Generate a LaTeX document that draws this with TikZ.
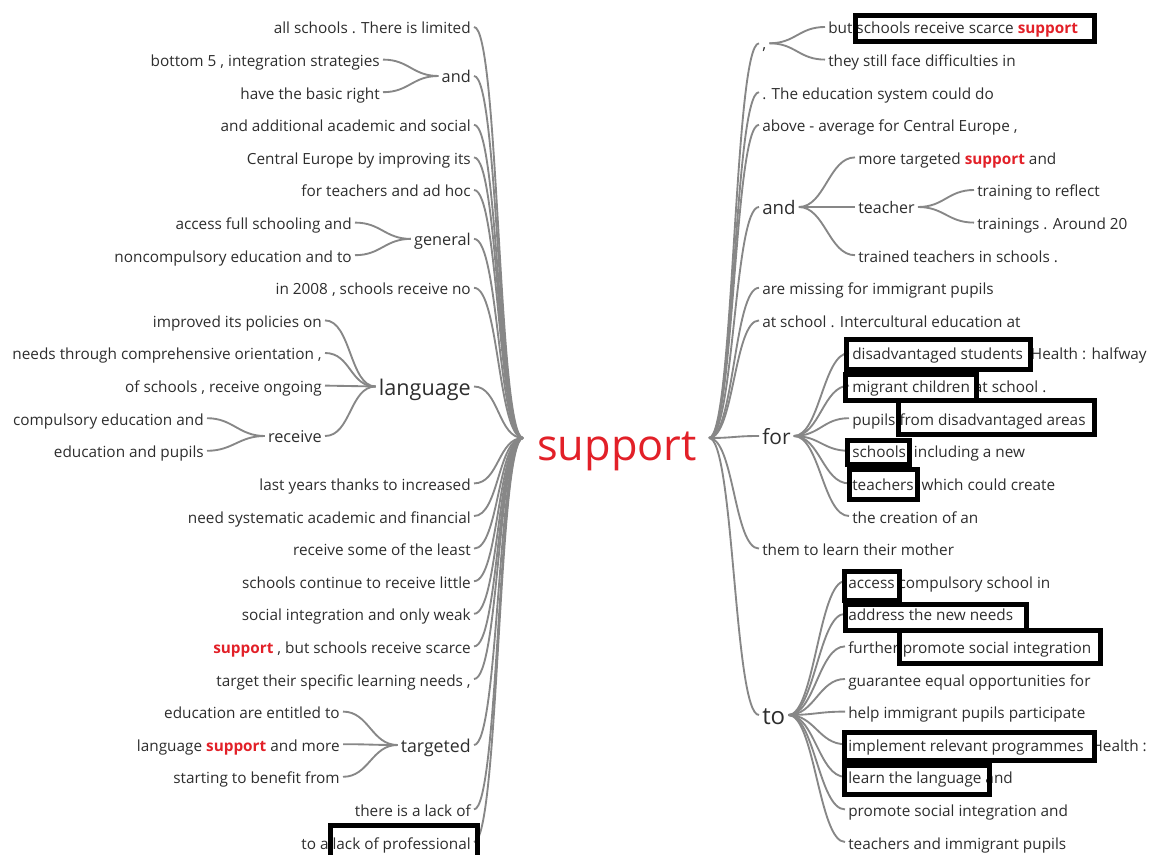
\documentclass[tikz,border=0pt]{standalone}
\usepackage{fontspec}
\setmainfont{Open Sans}
\usepackage{xcolor}

\definecolor{wordred}{RGB}{226,32,40}
\definecolor{wordgray}{RGB}{45,45,45}
\definecolor{linkgray}{RGB}{135,135,135}

\newcommand{\hit}{\textcolor{wordred}{\textbf{support}}}

\tikzset{
  word/.style={text=wordgray, inner xsep=2.25pt, inner ysep=0pt, text height=10.5pt, text depth=0pt, font=\fontsize{11.5}{13}\selectfont},
  leafL/.style={word, anchor=east},
  leafR/.style={word, anchor=west},
  hubword/.style={word, font=\fontsize{#1}{#1}\selectfont, text height=.8*#1 pt},
  link/.style={draw=linkgray, line width=1.4pt},
  hilite/.style={draw=black, line width=3.75pt},
}

\begin{document}
\begin{tikzpicture}[x=0.75pt, y=-0.75pt]
  \useasboundingbox (0,0) rectangle (1153,855);

  % centre word
  \node[font=\fontsize{32.5}{33}\selectfont, text=wordred, inner sep=0pt, anchor=base] (sup) at (617,460) {support};
  \coordinate (hubL) at (523,438);
  \coordinate (hubR) at (709,438);

  % left side
  \node[leafL] (l0) at (474,27) {all schools . There is limited};
  \node[hubword=12.2, anchor=east] (land) at (474,76) {and};
  \node[leafL] (land1) at (383,59.6) {bottom 5 , integration strategies};
  \node[leafL] (land2) at (383,92.2) {have the basic right};
  \node[leafL] (l3) at (474,124.8) {and additional academic and social};
  \node[leafL] (l4) at (474,157.4) {Central Europe by improving its};
  \node[leafL] (l5) at (474,190) {for teachers and ad hoc};
  \node[hubword=12.2, anchor=east] (lgen) at (474,238.9) {general};
  \node[leafL] (lgen1) at (355,222.6) {access full schooling and};
  \node[leafL] (lgen2) at (355,255.2) {noncompulsory education and to};
  \node[leafL] (l8) at (474,287.8) {in 2008 , schools receive no};
  \node[hubword=16.2, anchor=east] (llang) at (474,386.5) {language};
  \node[leafL] (llang1) at (325,320.4) {improved its policies on};
  \node[leafL] (llang2) at (325,353) {needs through comprehensive orientation ,};
  \node[leafL] (llang3) at (325,385.6) {of schools , receive ongoing};
  \node[hubword=12.2, anchor=east] (lrec) at (325,436) {receive};
  \node[leafL] (lrec1) at (207,418.2) {compulsory education and};
  \node[leafL] (lrec2) at (207,450.8) {education and pupils};
  \node[leafL] (l14) at (474,483.4) {last years thanks to increased};
  \node[leafL] (l15) at (474,516) {need systematic academic and financial};
  \node[leafL] (l16) at (474,548.6) {receive some of the least};
  \node[leafL] (l17) at (474,581.2) {schools continue to receive little};
  \node[leafL] (l18) at (474,613.8) {social integration and only weak};
  \node[leafL] (l19) at (474,646.4) {\hit{} , but schools receive scarce};
  \node[leafL] (l20) at (474,679) {target their specific learning needs ,};
  \node[hubword=13.3, anchor=east] (ltarg) at (474,745) {targeted};
  \node[leafL] (ltarg1) at (343,711.6) {education are entitled to};
  \node[leafL] (ltarg2) at (343,744.2) {language \hit{} and more};
  \node[leafL] (ltarg3) at (343,776.8) {starting to benefit from};
  \node[leafL] (l24) at (474,809.4) {there is a lack of};
  \node[leafL] (l25) at (474,842) {to a lack of professional};

  % right side
  \node[hubword=12, anchor=west] (rcom) at (759,43.3) {,};
  \node[leafR] (rcom1) at (825,27) {but schools receive scarce \hit};
  \node[leafR] (rcom2) at (825,59.6) {they still face difficulties in};
  \node[leafR] (r2) at (759,92.2) {. The education system could do};
  \node[leafR] (r3) at (759,124.8) {above - average for Central Europe ,};
  \node[hubword=14, anchor=west] (rand) at (759,207) {and};
  \node[leafR] (rand1) at (855,157.4) {more targeted \hit{} and};
  \node[hubword=12, anchor=west] (rteach) at (855,207) {teacher};
  \node[leafR] (rteach1) at (974,190) {training to reflect};
  \node[leafR] (rteach2) at (974,222.6) {trainings . Around 20};
  \node[leafR] (rand3) at (855,255.2) {trained teachers in schools .};
  \node[leafR] (r8) at (759,287.8) {are missing for immigrant pupils};
  \node[leafR] (r9) at (759,320.4) {at school . Intercultural education at};
  \node[hubword=15.7, anchor=west] (rfor) at (759,436) {for};
  \node[leafR] (rfor1) at (849,353) {disadvantaged students\ \ Health : halfway};
  \node[leafR] (rfor2) at (849,385.6) {migrant children at school .};
  \node[leafR] (rfor3) at (849,418.2) {pupils from disadvantaged areas};
  \node[leafR] (rfor4) at (849,450.8) {schools\ \ including a new};
  \node[leafR] (rfor5) at (849,483.4) {teachers\ \ which could create};
  \node[leafR] (rfor6) at (849,516) {the creation of an};
  \node[leafR] (r16) at (759,548.6) {them to learn their mother};
  \node[hubword=18, anchor=west] (rto) at (759,715) {to};
  \node[leafR] (rto1) at (845,581.2) {access compulsory school in};
  \node[leafR] (rto2) at (845,613.8) {address the new needs};
  \node[leafR] (rto3) at (845,646.4) {further promote social integration};
  \node[leafR] (rto4) at (845,679) {guarantee equal opportunities for};
  \node[leafR] (rto5) at (845,711.6) {help immigrant pupils participate};
  \node[leafR] (rto6) at (845,744.2) {implement relevant programmes\ \ Health :};
  \node[leafR] (rto7) at (845,776.8) {learn the language and};
  \node[leafR] (rto8) at (845,809.4) {promote social integration and};
  \node[leafR] (rto9) at (845,842) {teachers and immigrant pupils};

  % connectors
  \foreach \n in {l0,land,l3,l4,l5,lgen,l8,llang,l14,l15,l16,l17,l18,l19,l20,ltarg,l24,l25}
    \draw[link] (\n.east) .. controls +(25,0) and +(-25,0) .. (hubL);
  \foreach \p/\c in {land/land1,land/land2,lgen/lgen1,lgen/lgen2,llang/llang1,llang/llang2,llang/llang3,llang/lrec,lrec/lrec1,lrec/lrec2,ltarg/ltarg1,ltarg/ltarg2,ltarg/ltarg3}
    \draw[link] (\c.east) .. controls +(26,0) and +(-26,0) .. (\p.west);
  \foreach \n in {rcom,r2,r3,rand,r8,r9,rfor,r16,rto}
    \draw[link] (hubR) .. controls +(25,0) and +(-25,0) .. (\n.west);
  \foreach \p/\c in {rcom/rcom1,rcom/rcom2,rand/rand1,rand/rteach,rand/rand3,rteach/rteach1,rteach/rteach2,rfor/rfor1,rfor/rfor2,rfor/rfor3,rfor/rfor4,rfor/rfor5,rfor/rfor6,rto/rto1,rto/rto2,rto/rto3,rto/rto4,rto/rto5,rto/rto6,rto/rto7,rto/rto8,rto/rto9}
    \draw[link] (\p.east) .. controls +(26,0) and +(-26,0) .. (\c.west);

  % highlight boxes
  \draw[hilite] (855.5,15.5) rectangle (1094.5,41.5);
  \draw[hilite] (330.5,825.5) rectangle (477.5,860);
  \draw[hilite] (846.5,339.5) rectangle (1030.5,369.5);
  \draw[hilite] (845.5,374.5) rectangle (976.5,400.5);
  \draw[hilite] (898.5,400.5) rectangle (1094.5,434.5);
  \draw[hilite] (847.5,440.5) rectangle (909.5,464.5);
  \draw[hilite] (849.5,469.5) rectangle (917.5,499.5);
  \draw[hilite] (844.5,571.5) rectangle (899.5,600.5);
  \draw[hilite] (845.5,604.5) rectangle (1026.5,630.5);
  \draw[hilite] (899.5,630.5) rectangle (1100.5,663.5);
  \draw[hilite] (844.5,732.5) rectangle (1094.5,760.5);
  \draw[hilite] (844.5,765.5) rectangle (989.5,794.5);
\end{tikzpicture}
\end{document}
